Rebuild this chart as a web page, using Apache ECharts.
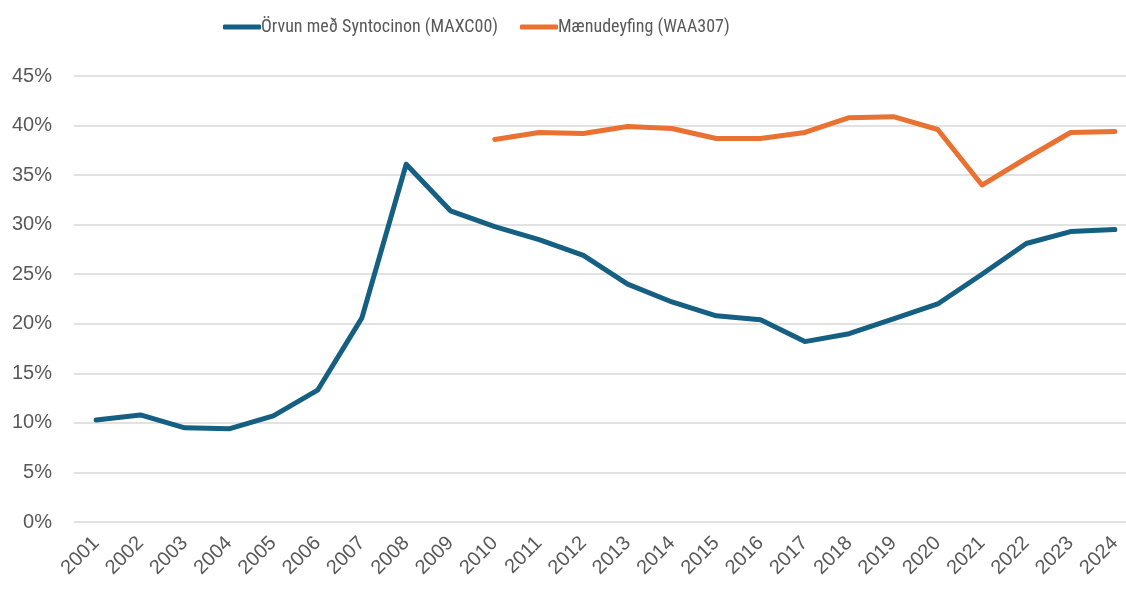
<!DOCTYPE html>
<html><head><meta charset="utf-8">
<script src="https://cdn.jsdelivr.net/npm/echarts@6/dist/echarts.min.js"></script>
<style>html,body{margin:0;padding:0;background:#fff;overflow:hidden;width:1126px;height:590px}#c{width:1137px;height:590px}</style>
</head><body><div id="c"></div>
<script>
const years = ['2001','2002','2003','2004','2005','2006','2007','2008','2009','2010','2011','2012','2013','2014','2015','2016','2017','2018','2019','2020','2021','2022','2023','2024'];
const orvun = [10.3,10.8,9.5,9.4,10.7,13.3,20.6,36.1,31.4,29.8,28.5,26.9,24.0,22.2,20.8,20.4,18.2,19.0,20.5,22.0,25.0,28.1,29.3,29.5];
const maenu = [null,null,null,null,null,null,null,null,null,38.6,39.3,39.2,39.9,39.7,38.7,38.7,39.3,40.8,40.9,39.6,34.0,36.7,39.3,39.4];
const yTicks = [0,5,10,15,20,25,30,35,40,45];
const seriesNames = ['Örvun með Syntocinon (MAXC00)','Mænudeyfing (WAA307)'];
const chart = echarts.init(document.getElementById('c'));
const txt = '#595959';
const narrow = '"Liberation Sans Narrow","Roboto Condensed","DejaVu Sans Condensed",sans-serif';
const legendBase = {top:13,itemWidth:38,itemHeight:5,icon:'roundRect',
    textStyle:{color:txt,fontSize:18,fontFamily:narrow,padding:[0,0,0,-5]}};
chart.setOption({
  animation:false,
  legend:[
    Object.assign({left:218,data:[seriesNames[0]]},legendBase),
    Object.assign({left:515,data:[seriesNames[1]]},legendBase)
  ],
  grid:{left:74,right:0,top:76,bottom:68,containLabel:false},
  xAxis:{type:'category',data:years,boundaryGap:true,
    axisLine:{show:false},axisTick:{show:false},
    axisLabel:{rotate:45,color:txt,fontSize:20,fontFamily:'Liberation Sans, Arial, sans-serif',margin:18,interval:0}},
  yAxis:{type:'value',min:0,max:45,interval:5,
    axisLine:{show:false},axisTick:{show:false},
    splitLine:{lineStyle:{color:'#d9d9d9',width:1.5}},
    axisLabel:{color:txt,fontSize:20,fontFamily:'Liberation Sans, Arial, sans-serif',margin:22,
      formatter:v=>yTicks.includes(v)?v+'%':''}},
  series:[
    {name:seriesNames[0],type:'line',data:orvun,symbol:'none',
      lineStyle:{color:'#156082',width:5,cap:'round',join:'round'},itemStyle:{color:'#156082'}},
    {name:seriesNames[1],type:'line',data:maenu,symbol:'none',connectNulls:false,
      lineStyle:{color:'#E97132',width:5,cap:'round',join:'round'},itemStyle:{color:'#E97132'}}
  ]
});
</script></body></html>
